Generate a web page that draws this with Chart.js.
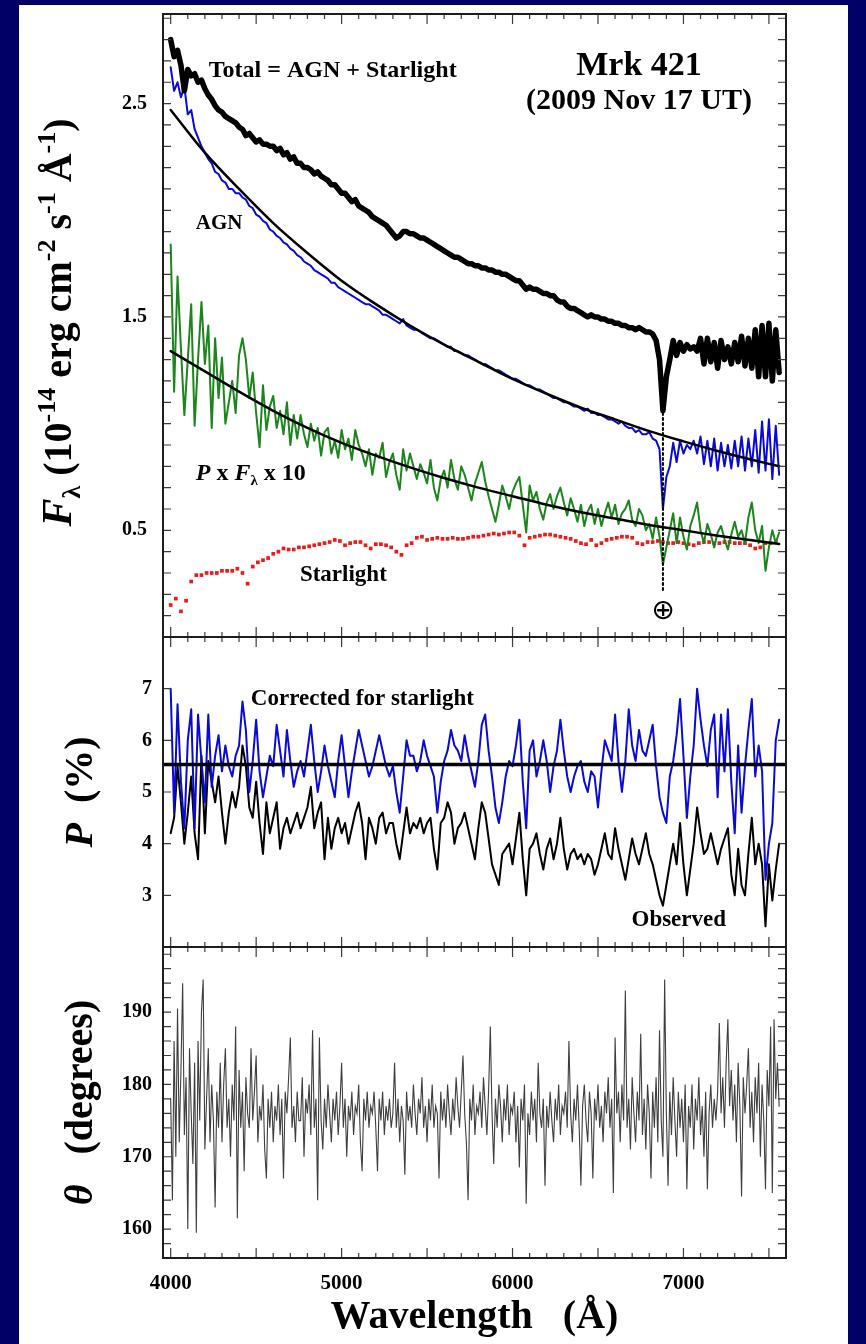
<!DOCTYPE html>
<html>
<head>
<meta charset="utf-8">
<title>Mrk 421 spectropolarimetry</title>
<script src="https://cdn.jsdelivr.net/npm/chart.js@4.4.1/dist/chart.umd.min.js"></script>
<style>
  html, body { margin: 0; padding: 0; background: #000066; }
  #page { position: relative; width: 866px; height: 1344px; overflow: hidden; }
  #paper { position: absolute; left: 19px; top: 5px; width: 829px; height: 1339px; background: #fff; }
  canvas { position: absolute; left: 0; }
</style>
</head>
<body>
<div id="page">
  <div id="paper"></div>
  <canvas id="fluxChart" width="866" height="645" style="top:0px"></canvas>
  <canvas id="polChart" width="866" height="325" style="top:630px"></canvas>
  <canvas id="angleChart" width="866" height="404" style="top:940px"></canvas>
</div>
<script>
// sampling grids (Angstrom)
const wave20 = [];
for (let w = 4000; w <= 7560; w += 20) wave20.push(w);
const wave30 = [];
for (let w = 4000; w <= 7540; w += 30) wave30.push(w);
const wave10 = [];
for (let w = 4000; w <= 7560; w += 10) wave10.push(w);

// top panel, F_lambda (1e-14 erg cm-2 s-1 A-1), on wave20
const fluxTotal = [
  2.80, 2.72, 2.75, 2.68, 2.56, 2.66, 2.63, 2.64, 2.60, 2.61,
  2.57, 2.54, 2.52, 2.49, 2.47, 2.46, 2.44, 2.43, 2.42, 2.41,
  2.39, 2.38, 2.35, 2.36, 2.34, 2.32, 2.33, 2.31, 2.31, 2.30,
  2.30, 2.28, 2.29, 2.26, 2.27, 2.24, 2.25, 2.22, 2.22, 2.20,
  2.20, 2.19, 2.17, 2.18, 2.16, 2.15, 2.14, 2.12, 2.12, 2.10,
  2.08, 2.08, 2.06, 2.04, 2.05, 2.02, 2.01, 2.00, 1.99, 1.97,
  1.96, 1.95, 1.94, 1.93, 1.91, 1.89, 1.87, 1.88, 1.90, 1.90,
  1.89, 1.89, 1.88, 1.87, 1.87, 1.86, 1.85, 1.84, 1.83, 1.82,
  1.81, 1.80, 1.79, 1.78, 1.78, 1.77, 1.76, 1.75, 1.75, 1.74,
  1.74, 1.73, 1.73, 1.72, 1.72, 1.71, 1.71, 1.70, 1.70, 1.69,
  1.68, 1.67, 1.67, 1.65, 1.63, 1.64, 1.63, 1.63, 1.62, 1.61,
  1.61, 1.60, 1.60, 1.58, 1.57, 1.57, 1.55, 1.54, 1.54, 1.53,
  1.52, 1.51, 1.50, 1.51, 1.50, 1.50, 1.49, 1.49, 1.48, 1.48,
  1.47, 1.47, 1.46, 1.46, 1.45, 1.45, 1.44, 1.45, 1.44, 1.43,
  1.43, 1.42, 1.39, 1.30, 1.06, 1.22, 1.30, 1.39, 1.32, 1.38,
  1.34, 1.37, 1.35, 1.36, 1.34, 1.40, 1.28, 1.40, 1.29, 1.38,
  1.26, 1.39, 1.30, 1.36, 1.28, 1.38, 1.29, 1.41, 1.27, 1.40,
  1.26, 1.44, 1.22, 1.46, 1.22, 1.47, 1.20, 1.44, 1.24
];
const fluxAgn = [
  2.67, 2.56, 2.60, 2.53, 2.58, 2.45, 2.47, 2.38, 2.34, 2.30,
  2.27, 2.24, 2.22, 2.18, 2.17, 2.14, 2.13, 2.10, 2.10, 2.08,
  2.08, 2.06, 2.05, 2.02, 2.01, 1.98, 1.97, 1.95, 1.94, 1.91,
  1.90, 1.88, 1.87, 1.85, 1.84, 1.82, 1.81, 1.79, 1.78, 1.76,
  1.75, 1.74, 1.72, 1.71, 1.70, 1.69, 1.68, 1.66, 1.66, 1.64,
  1.63, 1.62, 1.61, 1.60, 1.59, 1.58, 1.57, 1.56, 1.56, 1.55,
  1.54, 1.53, 1.51, 1.51, 1.50, 1.49, 1.48, 1.47, 1.49, 1.46,
  1.45, 1.44, 1.44, 1.43, 1.42, 1.41, 1.40, 1.40, 1.39, 1.38,
  1.37, 1.36, 1.36, 1.34, 1.34, 1.33, 1.32, 1.32, 1.31, 1.30,
  1.29, 1.28, 1.28, 1.27, 1.26, 1.25, 1.25, 1.24, 1.23, 1.22,
  1.21, 1.21, 1.20, 1.19, 1.18, 1.18, 1.17, 1.16, 1.16, 1.15,
  1.14, 1.13, 1.12, 1.12, 1.11, 1.10, 1.10, 1.09, 1.08, 1.08,
  1.07, 1.06, 1.07, 1.05, 1.05, 1.04, 1.04, 1.03, 1.02, 1.02,
  1.01, 1.00, 1.01, 0.99, 0.98, 0.98, 0.96, 0.97, 0.95, 0.95,
  0.96, 0.93, 0.92, 0.88, 0.60, 0.75, 0.80, 0.91, 0.82, 0.92,
  0.86, 0.90, 0.88, 0.92, 0.86, 0.94, 0.81, 0.92, 0.80, 0.93,
  0.78, 0.91, 0.80, 0.90, 0.79, 0.92, 0.80, 0.94, 0.78, 0.93,
  0.80, 0.97, 0.77, 1.01, 0.78, 1.02, 0.74, 0.99, 0.76
];
// P x F_lambda x 10
const polFlux = [
  1.84, 1.15, 1.69, 1.35, 1.04, 1.30, 1.56, 0.99, 1.30, 1.57,
  1.28, 1.46, 0.98, 1.40, 1.12, 1.31, 1.00, 1.10, 1.20, 1.05,
  1.32, 1.40, 1.30, 1.12, 1.24, 1.05, 0.89, 1.18, 0.97, 1.08,
  1.13, 0.98, 1.06, 0.95, 1.10, 0.90, 1.04, 0.93, 1.04, 0.95,
  0.89, 1.00, 0.92, 0.98, 0.85, 0.96, 0.98, 0.86, 0.92, 0.84,
  0.97, 0.88, 0.93, 0.83, 0.97, 0.90, 0.86, 0.80, 0.88, 0.76,
  0.86, 0.84, 0.91, 0.75, 0.82, 0.86, 0.76, 0.69, 0.88, 0.78,
  0.86, 0.80, 0.74, 0.81, 0.77, 0.72, 0.83, 0.70, 0.64, 0.74,
  0.78, 0.70, 0.83, 0.74, 0.69, 0.80, 0.76, 0.70, 0.64, 0.72,
  0.77, 0.82, 0.73, 0.66, 0.60, 0.54, 0.62, 0.71, 0.66, 0.60,
  0.68, 0.72, 0.75, 0.62, 0.49, 0.71, 0.64, 0.68, 0.60, 0.55,
  0.63, 0.67, 0.60, 0.66, 0.70, 0.63, 0.57, 0.65, 0.60, 0.54,
  0.62, 0.52, 0.59, 0.62, 0.53, 0.60, 0.52, 0.58, 0.63, 0.56,
  0.62, 0.53, 0.58, 0.60, 0.64, 0.55, 0.52, 0.60, 0.57, 0.50,
  0.53, 0.46, 0.56, 0.47, 0.34, 0.42, 0.50, 0.58, 0.44, 0.56,
  0.47, 0.41, 0.52, 0.57, 0.63, 0.50, 0.44, 0.53, 0.48, 0.42,
  0.49, 0.52, 0.46, 0.41, 0.48, 0.54, 0.47, 0.50, 0.44, 0.56,
  0.63, 0.50, 0.44, 0.52, 0.31, 0.42, 0.50, 0.44, 0.49
];
// starlight model, on wave30
const starlight = [
  0.15, 0.18, 0.12, 0.17, 0.26, 0.29, 0.29, 0.30, 0.30, 0.30,
  0.31, 0.31, 0.31, 0.32, 0.30, 0.25, 0.33, 0.35, 0.36, 0.37,
  0.39, 0.40, 0.415, 0.41, 0.41, 0.42, 0.42, 0.425, 0.43, 0.435,
  0.44, 0.445, 0.455, 0.45, 0.43, 0.44, 0.445, 0.445, 0.43, 0.415,
  0.435, 0.435, 0.43, 0.42, 0.40, 0.385, 0.43, 0.44, 0.465, 0.47,
  0.455, 0.46, 0.465, 0.46, 0.46, 0.465, 0.46, 0.46, 0.465, 0.47,
  0.47, 0.475, 0.48, 0.485, 0.48, 0.485, 0.49, 0.49, 0.475, 0.43,
  0.465, 0.47, 0.475, 0.48, 0.48, 0.475, 0.47, 0.465, 0.46, 0.45,
  0.44, 0.435, 0.455, 0.43, 0.44, 0.455, 0.46, 0.465, 0.47, 0.47,
  0.465, 0.44, 0.435, 0.445, 0.445, 0.45, 0.445, 0.44, 0.44, 0.445,
  0.44, 0.435, 0.43, 0.44, 0.445, 0.445, 0.44, 0.44, 0.445, 0.445,
  0.44, 0.44, 0.44, 0.43, 0.415, 0.42, 0.44, 0.44, 0.445
];
// smooth fits to AGN and P x F
const fitWave = [4000, 4200, 4400, 4600, 4800, 5000, 5200, 5400, 5600, 5800,
                 6000, 6200, 6400, 6600, 6800, 7000, 7200, 7400, 7560];
const agnFit = [2.47, 2.27, 2.10, 1.94, 1.80, 1.67, 1.56, 1.46, 1.37, 1.29,
                1.21, 1.14, 1.075, 1.02, 0.965, 0.917, 0.872, 0.831, 0.80];
const polFluxFit = [1.34, 1.245, 1.15, 1.06, 0.98, 0.91, 0.85, 0.795, 0.745, 0.70,
                    0.66, 0.62, 0.585, 0.555, 0.525, 0.50, 0.475, 0.453, 0.436];
// telluric B-band marker
const telluricWave = [6880, 6880];
const telluricFlux = [1.05, 0.22];

// middle panel, P (%), on wave20
const pCorrected = [
  7.0, 4.6, 6.7, 5.2, 4.3, 6.0, 6.6, 4.3, 6.5, 5.6,
  4.8, 6.5, 5.1, 5.7, 6.1, 5.4, 5.9, 5.5, 5.3, 5.7,
  5.9, 6.75, 6.2, 5.0, 5.6, 6.4, 5.4, 4.9, 5.3, 5.7,
  5.5, 6.3, 5.8, 5.3, 6.2, 5.6, 5.1, 5.4, 5.6, 5.3,
  5.8, 6.3, 5.6, 5.0, 5.4, 5.9, 5.5, 5.2, 4.9, 5.6,
  6.1, 5.5, 4.9, 5.4, 5.8, 6.2, 5.9, 5.6, 5.3, 5.5,
  5.8, 6.1, 5.8, 5.5, 5.3, 5.5, 5.0, 4.6, 5.3, 6.0,
  5.7, 5.7, 5.4, 5.6, 6.0, 5.7, 5.5, 5.3, 4.6, 5.2,
  5.6, 5.8, 6.2, 5.9, 5.8, 5.6, 6.1, 5.7, 5.4, 5.1,
  5.6, 6.3, 6.5, 5.8, 5.3, 4.7, 4.4, 4.8, 5.3, 5.6,
  5.5, 5.9, 6.4, 5.2, 4.3, 5.8, 6.0, 5.3, 5.6, 6.0,
  5.6, 5.0, 5.5, 5.8, 6.4, 5.8, 5.3, 5.0, 5.3, 5.5,
  5.6, 5.2, 5.0, 5.4, 5.3, 4.7, 5.4, 6.0, 5.8, 5.6,
  6.5, 5.6, 5.0, 5.6, 6.6, 5.9, 5.6, 6.2, 5.8, 5.7,
  6.0, 6.3, 5.5, 4.9, 4.6, 4.4, 5.3, 5.6, 6.1, 6.8,
  5.7, 4.5, 5.3, 5.9, 7.0, 6.4, 5.9, 5.5, 6.2, 6.5,
  4.9, 6.5, 5.4, 6.6, 5.2, 4.2, 5.9, 4.6, 5.5, 6.2,
  6.8, 5.3, 5.9, 5.4, 3.3, 4.0, 4.4, 6.0, 6.4
];
const pObserved = [
  4.2, 4.5, 5.5, 4.8, 4.0, 4.6, 5.3, 4.2, 3.7, 5.7,
  4.2, 5.6, 5.2, 4.8, 5.3, 4.6, 4.0, 4.6, 5.0, 4.7,
  5.1, 5.9, 5.5, 4.7, 4.5, 5.2, 4.4, 3.8, 4.8, 4.2,
  4.5, 4.8, 3.9, 4.3, 4.5, 4.2, 4.4, 4.6, 4.3, 4.5,
  4.7, 5.1, 4.3, 4.6, 4.8, 3.7, 4.5, 3.9, 4.3, 4.5,
  4.2, 4.4, 4.0, 4.3, 4.6, 4.8, 4.4, 3.7, 4.5, 4.3,
  4.0, 4.5, 4.6, 4.2, 4.4, 4.4, 4.0, 3.7, 4.2, 4.7,
  4.2, 4.4, 4.3, 4.5, 4.2, 4.4, 4.5, 3.9, 3.5, 4.4,
  4.5, 4.8, 4.6, 4.0, 4.3, 4.4, 4.6, 4.3, 4.0, 3.7,
  4.3, 4.8, 4.6, 4.1, 3.6, 3.4, 3.2, 3.8, 3.9, 4.0,
  3.6, 4.1, 4.6, 3.7, 3.0, 3.9, 4.0, 4.2, 3.8, 3.5,
  3.9, 4.1, 3.7, 4.0, 4.5, 3.9, 3.5, 3.8, 3.9, 3.7,
  3.8, 3.6, 3.8, 3.7, 3.4, 3.6, 3.9, 4.2, 3.8, 3.7,
  4.3, 3.9, 3.6, 3.3, 3.7, 4.1, 3.8, 3.6, 3.9, 4.2,
  3.8, 3.6, 3.3, 3.0, 2.8, 3.2, 3.6, 4.0, 3.6, 4.4,
  3.6, 3.0, 3.5, 4.0, 4.7, 4.2, 3.8, 3.9, 4.2, 3.9,
  3.6, 3.9, 4.1, 4.3, 3.4, 3.0, 3.9, 3.2, 3.0, 3.8,
  4.5, 3.6, 4.0, 3.6, 2.4, 3.6, 2.9, 3.5, 4.0
];
const pMeanWave = [3955, 7600];
const pMean = [5.53, 5.53];

// bottom panel, position angle (degrees), on wave10
const theta = [
  178, 164, 186, 170, 190.5, 172, 182, 194, 173, 181, 160, 185, 176, 169, 183, 159.5, 186, 175, 190, 194.5,
  171, 178, 185, 172, 180, 175, 163, 179, 174, 183, 172, 180, 185, 174, 178, 170, 180, 175, 188, 161.5,
  182, 174, 179, 168, 181, 176, 174, 185, 175, 179, 184, 172, 177, 175, 180, 171, 167, 178, 174, 179,
  172, 177, 175, 180, 173, 178, 167, 179, 176, 181, 186.5, 174, 177, 172, 179, 175, 175, 181, 170, 178,
  176, 180, 173, 187.5, 174, 178, 164, 186.5, 175, 171, 178, 174, 180, 176, 172, 178, 175, 179, 173, 177,
  183, 174, 178, 170, 177, 175, 179, 173, 177, 176, 180, 172, 168, 178, 175, 179, 174, 177, 176, 179,
  174, 168, 178, 175, 179, 173, 177, 175, 178, 174, 176, 183, 174, 178, 172, 177, 175, 167.5, 179, 175,
  177, 174, 180, 176, 173, 178, 176, 181, 174, 177, 172, 178, 175, 180, 174, 177, 176, 167, 179, 175,
  178, 174, 180, 176, 173, 178, 175, 181, 177, 174, 179, 184, 176, 172, 164, 178, 175, 180, 173, 177,
  176, 179, 174, 181, 177, 173, 179, 188, 176, 169, 178, 174, 180, 177, 172, 178, 175, 180, 173, 177,
  176, 179, 172, 177, 168.5, 178, 175, 180, 163.5, 176, 173, 179, 175, 178, 172, 183, 176, 174, 178, 166,
  177, 174, 179, 175, 172, 178, 175, 180, 173, 177, 176, 179, 174, 186, 176, 172, 178, 175, 180, 174,
  166, 177, 180, 175, 172, 179, 176, 167, 178, 175, 180, 174, 177, 172, 179, 176, 181, 174, 178, 165,
  186.5, 176, 179, 172, 180, 175, 193, 174, 178, 171, 181, 176, 172, 179, 175, 187, 173, 178, 171, 180,
  176, 167, 179, 174, 181, 172, 187.5, 175, 170, 194.5, 176, 166, 179, 173, 181, 175, 170, 179, 174, 178,
  172, 180, 165.5, 177, 174, 180, 171, 178, 175, 181, 173, 177, 170, 179, 165.5, 176, 180, 174, 178, 175,
  179, 188.5, 176, 181, 174, 183, 189, 177, 182, 175, 180, 172, 183, 177, 164.5, 181, 176, 180, 185, 174,
  179, 172, 181, 176, 183, 170, 180, 175, 165.5, 182, 177, 188, 165, 189, 178, 183, 177
];

// tick labels
const waveTicks = [4000, 5000, 6000, 7000];
const fluxTicks = [0.5, 1.5, 2.5];
const pTicks = [3, 4, 5, 6, 7];
const thetaTicks = [160, 170, 180, 190];

const SERIF = '"Liberation Serif", "Times New Roman", serif';

function xy(xs, ys) {
  return ys.map((v, i) => ({ x: xs[i], y: v }));
}

function fontOf(p) {
  return (p.i ? 'italic ' : '') + (p.n ? '' : 'bold ') + p.s + 'px ' + (p.f || SERIF);
}

// draws a run of text pieces (sub/superscripts, italics) from a baseline point
function drawParts(ctx, parts, x, y, align) {
  let width = 0;
  for (const p of parts) { ctx.font = fontOf(p); width += ctx.measureText(p.t).width; }
  let cx = align === 'center' ? x - width / 2 : x;
  for (const p of parts) {
    ctx.font = fontOf(p);
    ctx.fillText(p.t, cx, y + (p.dy || 0));
    cx += ctx.measureText(p.t).width;
  }
}

// frame + inward tick marks on all four sides
function makeFrame(yFrom, yTo, yStep) {
  return {
    id: 'frame',
    afterDraw(chart) {
      const { ctx, chartArea: a, scales: { x, y } } = chart;
      ctx.save();
      ctx.strokeStyle = '#3c3c3c';
      ctx.lineWidth = 1.2;
      ctx.beginPath();
      for (let w = 4000; w <= 7600; w += 100) {
        const px = x.getPixelForValue(w);
        const len = w % 500 === 0 ? 10 : 5;
        ctx.moveTo(px, a.bottom); ctx.lineTo(px, a.bottom - len);
        ctx.moveTo(px, a.top); ctx.lineTo(px, a.top + len);
      }
      const n = Math.round((yTo - yFrom) / yStep);
      for (let k = 0; k <= n; k++) {
        const py = y.getPixelForValue(yFrom + k * yStep);
        ctx.moveTo(a.left, py); ctx.lineTo(a.left + 8, py);
        ctx.moveTo(a.right, py); ctx.lineTo(a.right - 8, py);
      }
      ctx.stroke();
      ctx.lineWidth = 2;
      ctx.strokeStyle = '#1e1e1e';
      ctx.strokeRect(a.left, a.top, a.right - a.left, a.bottom - a.top);
      ctx.restore();
    }
  };
}

// text labels placed in data coordinates + rotated y title
function makeNotes(labels, title) {
  return {
    id: 'notes',
    afterDraw(chart) {
      const { ctx, chartArea: a, scales: { x, y } } = chart;
      ctx.save();
      ctx.fillStyle = '#000';
      ctx.textAlign = 'left';
      ctx.textBaseline = 'alphabetic';
      for (const n of labels) {
        const px = x.getPixelForValue(n.x);
        const py = y.getPixelForValue(n.y);
        drawParts(ctx, n.parts, px, py + n.parts[0].s * 0.33, n.align);
      }
      if (title) {
        ctx.translate(title.base, (a.top + a.bottom) / 2 + (title.shift || 0));
        ctx.rotate(-Math.PI / 2);
        drawParts(ctx, title.parts, 0, 0, 'center');
      }
      ctx.restore();
    }
  };
}

function waveAxis(show) {
  return {
    type: 'linear', min: 3955, max: 7600, display: show,
    grid: { display: false, drawTicks: false },
    border: { display: false },
    afterBuildTicks: s => { s.ticks = waveTicks.map(v => ({ value: v })); },
    afterFit: s => {
      if (show) s.height = 86;
      s.paddingLeft = 0; s.paddingRight = 0;
    },
    ticks: {
      autoSkip: false, maxRotation: 0, padding: 13, color: '#000',
      font: { family: SERIF, size: 21, weight: 'bold' },
      callback: v => String(v)
    },
    title: {
      display: show, text: 'Wavelength   (\u00c5)', color: '#000',
      font: { family: SERIF, size: 40, weight: 'bold', lineHeight: 1 },
      padding: { top: 0, bottom: 6 }
    }
  };
}

function valueAxis(min, max, tickVals, digits, pad) {
  return {
    type: 'linear', min: min, max: max,
    grid: { display: false, drawTicks: false },
    border: { display: false },
    afterBuildTicks: s => { s.ticks = tickVals.map(v => ({ value: v })); },
    afterFit: s => {
      s.width = 163;
      // keep the label overhang from pushing the plot area down
      s.paddingTop = 0; s.paddingBottom = 0;
    },
    ticks: {
      autoSkip: false, padding: pad, color: '#000',
      font: { family: SERIF, size: 20, weight: 'bold' },
      callback: v => v.toFixed(digits)
    }
  };
}

function baseOptions(padding, xAxis, yAxis) {
  return {
    responsive: false,
    animation: false,
    devicePixelRatio: 1,
    layout: { padding: padding },
    plugins: { legend: { display: false }, tooltip: { enabled: false } },
    elements: { point: { radius: 0 }, line: { tension: 0, borderCapStyle: 'round', borderJoinStyle: 'round' } },
    scales: { x: xAxis, y: yAxis }
  };
}

// ---- top panel: flux ----
new Chart(document.getElementById('fluxChart'), {
  type: 'line',
  data: {
    datasets: [
      { data: xy(telluricWave, telluricFlux), borderColor: '#000', borderWidth: 2, borderDash: [2, 3] },
      { data: xy(fitWave, agnFit), borderColor: '#000', borderWidth: 2.5, cubicInterpolationMode: 'monotone' },
      { data: xy(fitWave, polFluxFit), borderColor: '#000', borderWidth: 2.5, cubicInterpolationMode: 'monotone' },
      { data: xy(wave20, fluxTotal), borderColor: '#000', borderWidth: 5.5 },
      { data: xy(wave20, fluxAgn), borderColor: '#0a0ad8', borderWidth: 2 },
      { data: xy(wave20, polFlux), borderColor: '#1b861b', borderWidth: 2 },
      { data: xy(wave30, starlight), showLine: false, pointStyle: 'rect', pointRadius: 2.6,
        pointBackgroundColor: '#f01818', pointBorderWidth: 0 }
    ]
  },
  options: baseOptions({ left: 0, top: 14, right: 80, bottom: 8 }, waveAxis(false),
                       valueAxis(0, 2.92, fluxTicks, 1, 16)),
  plugins: [
    makeFrame(0.1, 2.9, 0.1),
    makeNotes([
      { x: 4223, y: 2.66, align: 'left', parts: [{ t: 'Total = AGN + Starlight', s: 24 }] },
      { x: 6740, y: 2.685, align: 'center', parts: [{ t: 'Mrk 421', s: 34 }] },
      { x: 6740, y: 2.52, align: 'center', parts: [{ t: '(2009 Nov 17 UT)', s: 30 }] },
      { x: 4147, y: 1.944, align: 'left', parts: [{ t: 'AGN', s: 21 }] },
      { x: 4147, y: 0.773, align: 'left', parts: [
        { t: 'P', s: 24, i: true }, { t: ' x ', s: 24 }, { t: 'F', s: 24, i: true },
        { t: '\u03bb', s: 15, dy: 5 }, { t: ' x 10', s: 24 }] },
      { x: 4756, y: 0.30, align: 'left', parts: [{ t: 'Starlight', s: 23 }] },
      { x: 6880, y: 0.126, align: 'center', parts: [{ t: '\u2295', s: 28, f: '"DejaVu Sans"', n: true }] }
    ], {
      base: 71, shift: -3,
      parts: [
        { t: 'F', s: 42, i: true }, { t: '\u03bb', s: 26, dy: 9 },
        { t: ' (10', s: 40 }, { t: '-14', s: 26, dy: -16 },
        { t: ' erg cm', s: 40 }, { t: '-2', s: 26, dy: -16 },
        { t: ' s', s: 40 }, { t: '-1', s: 26, dy: -16 },
        { t: ' \u00c5', s: 40 }, { t: '-1', s: 26, dy: -16 },
        { t: ')', s: 40 }
      ]
    })
  ]
});

// ---- middle panel: polarization ----
new Chart(document.getElementById('polChart'), {
  type: 'line',
  data: {
    datasets: [
      { data: xy(pMeanWave, pMean), borderColor: '#000', borderWidth: 3.5 },
      { data: xy(wave20, pCorrected), borderColor: '#0a0ad8', borderWidth: 2 },
      { data: xy(wave20, pObserved), borderColor: '#000', borderWidth: 2 }
    ]
  },
  options: baseOptions({ left: 0, top: 7, right: 80, bottom: 8 }, waveAxis(false),
                       valueAxis(2, 8, pTicks, 0, 11)),
  plugins: [
    makeFrame(2, 8, 1),
    makeNotes([
      { x: 4469, y: 6.83, align: 'left', parts: [{ t: 'Corrected for starlight', s: 23 }] },
      { x: 6696, y: 2.56, align: 'left', parts: [{ t: 'Observed', s: 23 }] }
    ], {
      base: 92,
      parts: [{ t: 'P', s: 40, i: true }, { t: '  (%)', s: 40 }]
    })
  ]
});

// ---- bottom panel: position angle ----
new Chart(document.getElementById('angleChart'), {
  type: 'line',
  data: {
    datasets: [
      { data: xy(wave10, theta), borderColor: '#3e3e3e', borderWidth: 1.1, borderJoinStyle: 'miter' }
    ]
  },
  options: baseOptions({ left: 0, top: 7, right: 80, bottom: 0 }, waveAxis(true),
                       valueAxis(156, 199, thetaTicks, 0, 11)),
  plugins: [
    makeFrame(156, 198, 2),
    makeNotes([], {
      base: 92,
      parts: [{ t: '\u03b8', s: 40, i: true }, { t: '   (degrees)', s: 40 }]
    })
  ]
});
</script>
</body>
</html>
